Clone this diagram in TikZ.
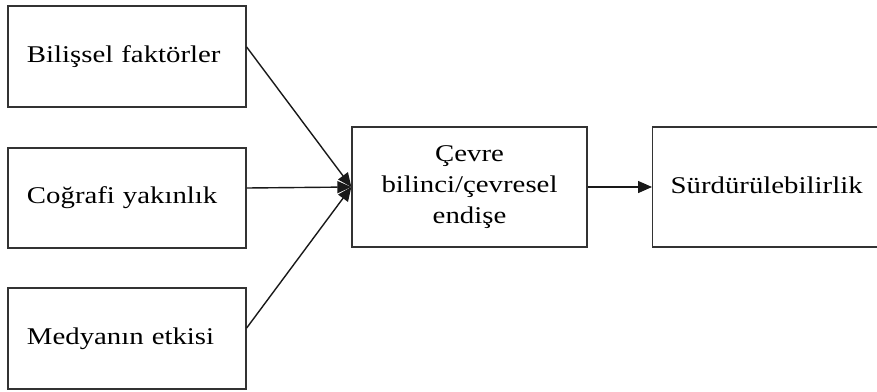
\documentclass[tikz,border=0pt]{standalone}
\usepackage{fontspec}
\setmainfont{Liberation Serif}[FakeStretch=1.2]
\usetikzlibrary{arrows.meta}

\tikzset{
  box/.style={draw=black!80, line width=1.3pt, rectangle, inner sep=0pt,
    font=\fontsize{24}{31}\selectfont, align=center},
  factor/.style={box, minimum width=238pt, text width=200pt, align=left,
    inner xsep=19pt},
  link/.style={draw=black!90, line width=1.4pt,
    -{Triangle[length=14pt,width=12pt]}}
}

\begin{document}
\begin{tikzpicture}[x=1pt,y=-1pt]
  \clip (0,0) rectangle (877,391);
  \fill[white] (0,0) rectangle (877,391);

  % factor boxes on the left
  \node[factor, minimum height=101pt] (bilis) at (127,56.5) {Bilişsel faktörler};
  \node[factor, minimum height=100pt] (cograf) at (127,198) {Coğrafi yakınlık};
  \node[factor, minimum height=101pt] (medya) at (127,338.5) {Medyanın etkisi};

  % central box
  \node[box, minimum width=235pt, minimum height=120pt] (cevre) at (469.5,187)
    {Çevre\\bilinci/çevresel\\endişe};

  % outcome box, running past the right edge
  \node[box, minimum width=250pt, minimum height=120pt, anchor=west,
        text width=214pt, align=left, inner xsep=18pt] (surd) at (652,187)
    {\raisebox{4pt}{Sürdürülebilirlik}};

  % connectors
  \draw[link] ([yshift=9.5pt]bilis.east) -- (cevre.west);
  \draw[link] ([yshift=10pt]cograf.east) -- (cevre.west);
  \draw[link] ([yshift=10.5pt]medya.east) -- (cevre.west);
  \draw[link] (cevre.east) -- (surd.west);
\end{tikzpicture}
\end{document}
